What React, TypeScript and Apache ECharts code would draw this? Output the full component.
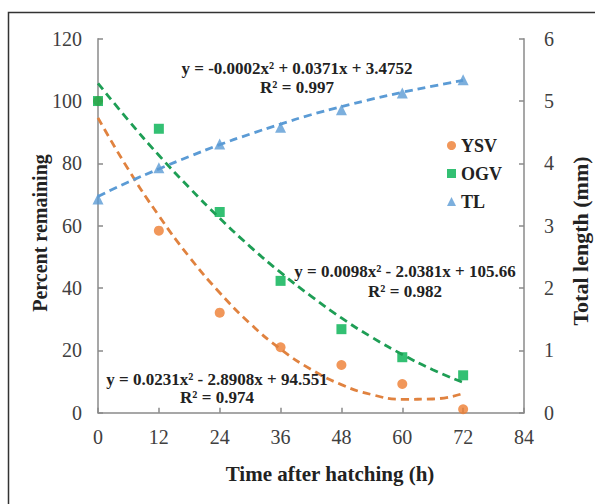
import React, { useEffect, useRef } from "react";
import * as echarts from "echarts";

const hours = [0, 12, 24, 36, 48, 60, 72];
const ysv = [100, 58.4, 32.1, 21.0, 15.3, 9.2, 1.1];
const ogv = [100, 91.1, 64.4, 42.3, 26.8, 17.8, 12.0];
const tl = [3.43, 3.93, 4.31, 4.58, 4.86, 5.13, 5.34];

const trendHours = [0, 6, 12, 18, 24, 30, 36, 42, 48, 54, 60, 66, 72];
const ysvTrend = [94.6, 78.0, 63.2, 50.0, 38.5, 28.6, 20.4, 13.9, 9.0, 5.8, 4.3, 4.4, 6.2];
const ogvTrend = [105.7, 93.8, 82.6, 72.2, 62.4, 53.3, 45.0, 37.4, 30.4, 24.2, 18.7, 13.8, 9.7];
const tlTrend = [3.47, 3.7, 3.91, 4.11, 4.3, 4.47, 4.63, 4.78, 4.91, 5.03, 5.14, 5.24, 5.33];

const xTicks = { min: 0, max: 84, interval: 12 };
const leftTicks = { min: 0, max: 120, interval: 20 };
const rightTicks = { min: 0, max: 6, interval: 1 };

const eqTL = ["y = -0.0002x² + 0.0371x + 3.4752", "R² = 0.997"];
const eqOGV = ["y = 0.0098x² - 2.0381x + 105.66", "R² = 0.982"];
const eqYSV = ["y = 0.0231x² - 2.8908x + 94.551", "R² = 0.974"];

const SERIF = '"Liberation Serif", "Times New Roman", serif';
const AXIS_COLOR = "#8a8a8a";
const C_ORANGE = "#ED7D31";
const C_GREEN = "#00B050";
const C_BLUE = "#5B9BD5";

const pairs = (xs: number[], ys: number[]) => xs.map((x, i) => [x, ys[i]]);

export default function App() {
  const ref = useRef<HTMLDivElement>(null);
  useEffect(() => {
    if (!ref.current) return;
    const chart = echarts.init(ref.current, null, { renderer: "svg" });
    const axisCommon = {
      axisLine: { show: true, lineStyle: { color: AXIS_COLOR, width: 1.5 } },
      axisTick: { show: true, inside: true, length: 5, lineStyle: { color: AXIS_COLOR, width: 1.5 } },
      splitLine: { show: false },
      axisLabel: { color: "#404040", fontFamily: SERIF, fontSize: 20 },
    };
    const eqText = (x: number, y: number, lines: string[], lh: number) => ({
      type: "text",
      x,
      y,
      z: 100,
      style: {
        text: lines.join("\n"),
        font: `bold 17px ${SERIF}`,
        lineHeight: lh,
        fill: "#222",
        align: "center",
        verticalAlign: "middle",
      },
    });
    const trendLine = (name: string, data: number[], color: string, yAxisIndex = 0) => ({
      name,
      type: "line",
      yAxisIndex,
      smooth: true,
      showSymbol: false,
      symbol: "none",
      z: 5,
      lineStyle: { color, width: 2.8, type: [8, 5] },
      data: pairs(trendHours, data),
    });
    chart.setOption({
      animation: false,
      backgroundColor: "#fff",
      grid: { left: 98, right: 71, top: 38.7, bottom: 91.3 },
      xAxis: {
        type: "value",
        ...xTicks,
        ...axisCommon,
        axisLabel: { ...axisCommon.axisLabel, margin: 14 },
      },
      yAxis: [
        {
          type: "value",
          ...leftTicks,
          ...axisCommon,
          axisLabel: { ...axisCommon.axisLabel, margin: 16 },
        },
        {
          type: "value",
          position: "right",
          ...rightTicks,
          ...axisCommon,
          axisLabel: { ...axisCommon.axisLabel, margin: 20 },
        },
      ],
      legend: {
        orient: "vertical",
        left: 442,
        top: 131,
        itemWidth: 9,
        itemHeight: 9,
        itemGap: 9,
        data: [
          { name: "YSV", icon: "circle" },
          { name: "OGV", icon: "rect" },
          { name: "TL", icon: "triangle" },
        ],
        textStyle: { fontFamily: SERIF, fontWeight: "bold", fontSize: 18, color: "#222", lineHeight: 19 },
      },
      series: [
        {
          name: "YSV",
          type: "scatter",
          symbol: "circle",
          symbolSize: 10,
          itemStyle: { color: C_ORANGE },
          data: pairs(hours, ysv),
        },
        {
          name: "OGV",
          type: "scatter",
          symbol: "rect",
          symbolSize: 10,
          itemStyle: { color: C_GREEN },
          data: pairs(hours, ogv),
        },
        {
          name: "TL",
          type: "scatter",
          yAxisIndex: 1,
          symbol: "triangle",
          symbolSize: 11,
          itemStyle: { color: C_BLUE },
          data: pairs(hours, tl),
        },
        trendLine("YSV trend", ysvTrend, "#E0823F"),
        trendLine("OGV trend", ogvTrend, "#1E9E55"),
        trendLine("TL trend", tlTrend, C_BLUE, 1),
      ],
      graphic: [
        {
          type: "polyline",
          shape: { points: [[8.5, 510], [8.5, 12.5], [600, 12.5]] },
          style: { stroke: "#333", lineWidth: 1.5, fill: "none" },
        },
        eqText(297, 77.5, eqTL, 19),
        eqText(405, 281, eqOGV, 20),
        eqText(217, 388.5, eqYSV, 18),
        {
          type: "text",
          x: 40,
          y: 233,
          rotation: Math.PI / 2,
          style: {
            text: "Percent remaining",
            font: `bold 20px ${SERIF}`,
            fill: "#222",
            align: "center",
            verticalAlign: "middle",
          },
        },
        {
          type: "text",
          x: 580,
          y: 241,
          rotation: Math.PI / 2,
          style: {
            text: "Total length (mm)",
            font: `bold 22px ${SERIF}`,
            fill: "#222",
            align: "center",
            verticalAlign: "middle",
          },
        },
        {
          type: "text",
          x: 330,
          y: 474,
          style: {
            text: "Time after hatching (h)",
            font: `bold 21px ${SERIF}`,
            fill: "#222",
            align: "center",
            verticalAlign: "middle",
          },
        },
      ],
    });
    return () => chart.dispose();
  }, []);
  return (
    <div
      ref={ref}
      style={{ position: "fixed", left: 0, top: 0, width: 595, height: 504 }}
    />
  );
}
